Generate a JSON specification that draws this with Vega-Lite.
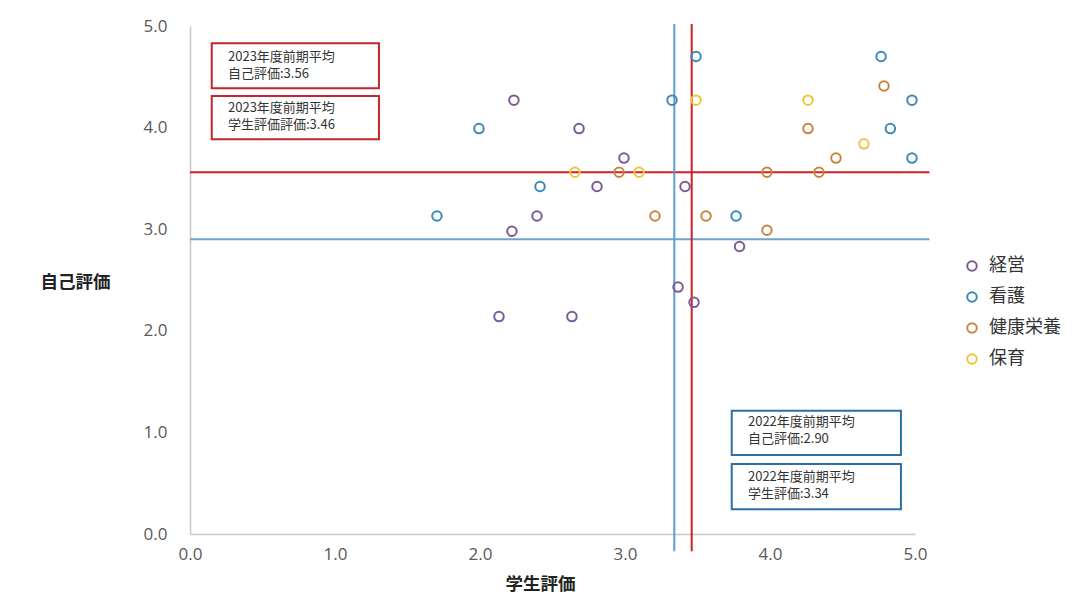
{
  "$schema": "https://vega.github.io/schema/vega-lite/v6.json",
  "width": 725,
  "height": 508,
  "autosize": "none",
  "padding": {"left": 190, "top": 26, "right": 168, "bottom": 78},
  "background": "white",
  "config": {
    "view": {"stroke": null},
    "font": "Noto Sans CJK JP",
    "axis": {
      "grid": false,
      "ticks": false,
      "labelFlush": false,
      "domainColor": "#c8c8c8",
      "domainWidth": 1.5,
      "labelColor": "#595959",
      "labelFontSize": 17,
      "labelFont": "Open Sans",
      "titleFontSize": 17.5,
      "titleFontWeight": "bold",
      "titleColor": "#222222"
    }
  },
  "datasets": {
    "points": [
      {"学生評価": 2.234, "自己評価": 4.27, "学科": "経営"},
      {"学生評価": 2.683, "自己評価": 3.99, "学科": "経営"},
      {"学生評価": 2.993, "自己評価": 3.70, "学科": "経営"},
      {"学生評価": 2.807, "自己評価": 3.42, "学科": "経営"},
      {"学生評価": 2.393, "自己評価": 3.13, "学科": "経営"},
      {"学生評価": 2.22, "自己評価": 2.98, "学科": "経営"},
      {"学生評価": 3.414, "自己評価": 3.42, "学科": "経営"},
      {"学生評価": 3.79, "自己評価": 2.83, "学科": "経営"},
      {"学生評価": 3.366, "自己評価": 2.43, "学科": "経営"},
      {"学生評価": 3.476, "自己評価": 2.28, "学科": "経営"},
      {"学生評価": 2.131, "自己評価": 2.14, "学科": "経営"},
      {"学生評価": 2.634, "自己評価": 2.14, "学科": "経営"},
      {"学生評価": 1.703, "自己評価": 3.13, "学科": "看護"},
      {"学生評価": 1.993, "自己評価": 3.99, "学科": "看護"},
      {"学生評価": 2.414, "自己評価": 3.42, "学科": "看護"},
      {"学生評価": 3.324, "自己評価": 4.27, "学科": "看護"},
      {"学生評価": 3.49, "自己評価": 4.70, "学科": "看護"},
      {"学生評価": 3.766, "自己評価": 3.13, "学科": "看護"},
      {"学生評価": 4.766, "自己評価": 4.70, "学科": "看護"},
      {"学生評価": 4.979, "自己評価": 4.27, "学科": "看護"},
      {"学生評価": 4.83, "自己評価": 3.99, "学科": "看護"},
      {"学生評価": 4.979, "自己評価": 3.70, "学科": "看護"},
      {"学生評価": 2.959, "自己評価": 3.56, "学科": "健康栄養"},
      {"学生評価": 3.207, "自己評価": 3.13, "学科": "健康栄養"},
      {"学生評価": 3.559, "自己評価": 3.13, "学科": "健康栄養"},
      {"学生評価": 3.979, "自己評価": 3.56, "学科": "健康栄養"},
      {"学生評価": 3.979, "自己評価": 2.99, "学科": "健康栄養"},
      {"学生評価": 4.262, "自己評価": 3.99, "学科": "健康栄養"},
      {"学生評価": 4.338, "自己評価": 3.56, "学科": "健康栄養"},
      {"学生評価": 4.455, "自己評価": 3.70, "学科": "健康栄養"},
      {"学生評価": 4.786, "自己評価": 4.41, "学科": "健康栄養"},
      {"学生評価": 2.655, "自己評価": 3.56, "学科": "保育"},
      {"学生評価": 3.097, "自己評価": 3.56, "学科": "保育"},
      {"学生評価": 3.49, "自己評価": 4.27, "学科": "保育"},
      {"学生評価": 4.262, "自己評価": 4.27, "学科": "保育"},
      {"学生評価": 4.648, "自己評価": 3.84, "学科": "保育"}
    ],
    "vlines": [
      {"x": 3.34, "y": -0.17, "y2": 5.02, "group": "2022"},
      {"x": 3.46, "y": -0.17, "y2": 5.02, "group": "2023"}
    ],
    "hlines": [
      {"y": 2.90, "x": 0, "x2": 5.1, "group": "2022"},
      {"y": 3.56, "x": 0, "x2": 5.1, "group": "2023"}
    ],
    "boxes": [
      {"x": 0.150, "x2": 1.303, "y": 4.830, "y2": 4.387, "group": "2023", "tx": 0.262, "ty": 4.698, "label": "2023年度前期平均\n自己評価:3.56"},
      {"x": 0.150, "x2": 1.303, "y": 4.311, "y2": 3.885, "group": "2023", "tx": 0.262, "ty": 4.193, "label": "2023年度前期平均\n学生評価評価:3.46"},
      {"x": 3.736, "x2": 4.903, "y": 1.214, "y2": 0.778, "group": "2022", "tx": 3.848, "ty": 1.105, "label": "2022年度前期平均\n自己評価:2.90"},
      {"x": 3.736, "x2": 4.903, "y": 0.689, "y2": 0.243, "group": "2022", "tx": 3.848, "ty": 0.561, "label": "2022年度前期平均\n学生評価:3.34"}
    ]
  },
  "layer": [
    {
      "data": {"name": "hlines"},
      "mark": {"type": "rule", "strokeWidth": 2},
      "encoding": {
        "x": {"field": "x", "type": "quantitative", "scale": {"domain": [0, 5], "nice": false}, "axis": {"values": [0, 1, 2, 3, 4, 5], "format": ".1f", "labelPadding": 12, "title": "学生評価", "titleX": 350, "titleY": 50, "titleAnchor": "middle", "titleBaseline": "middle"}},
        "x2": {"field": "x2"},
        "y": {"field": "y", "type": "quantitative", "scale": {"domain": [0, 5], "nice": false}, "axis": {"values": [0, 1, 2, 3, 4, 5], "format": ".1f", "labelPadding": 23, "title": "自己評価", "titleAngle": 0, "titleX": -115, "titleY": 256, "titleAlign": "center", "titleBaseline": "middle"}},
        "color": {"field": "group", "type": "nominal", "scale": {"domain": ["2022", "2023"], "range": ["#6fa3cf", "#cc2026"]}, "legend": null}
      }
    },
    {
      "data": {"name": "vlines"},
      "mark": {"type": "rule", "strokeWidth": 2},
      "encoding": {
        "x": {"field": "x", "type": "quantitative"},
        "y": {"field": "y", "type": "quantitative"},
        "y2": {"field": "y2"},
        "color": {"field": "group", "type": "nominal", "scale": {"domain": ["2022", "2023"], "range": ["#5d9fd0", "#cc2026"]}, "legend": null}
      }
    },
    {
      "data": {"name": "boxes"},
      "mark": {"type": "rect", "fill": "white", "strokeWidth": 2},
      "encoding": {
        "x": {"field": "x", "type": "quantitative"},
        "x2": {"field": "x2"},
        "y": {"field": "y", "type": "quantitative"},
        "y2": {"field": "y2"},
        "stroke": {"field": "group", "type": "nominal", "scale": {"domain": ["2022", "2023"], "range": ["#2a6fa8", "#c0282d"]}, "legend": null}
      }
    },
    {
      "data": {"name": "boxes"},
      "mark": {"type": "text", "align": "left", "baseline": "middle", "fontSize": 13, "lineBreak": "\n", "lineHeight": 17, "color": "#333333"},
      "encoding": {
        "x": {"field": "tx", "type": "quantitative"},
        "y": {"field": "ty", "type": "quantitative"},
        "text": {"field": "label"}
      }
    },
    {
      "data": {"name": "points"},
      "mark": {"type": "point", "shape": "circle", "filled": false, "strokeWidth": 2, "size": 90, "opacity": 1},
      "encoding": {
        "x": {"field": "学生評価", "type": "quantitative"},
        "y": {"field": "自己評価", "type": "quantitative"},
        "color": {
          "field": "学科", "type": "nominal",
          "scale": {"domain": ["経営", "看護", "健康栄養", "保育"], "range": ["#7b5a95", "#3a8ab8", "#c8843e", "#f2c43a"]},
          "legend": {
            "orient": "none", "legendX": 773, "legendY": 231, "title": null,
            "symbolType": "circle", "symbolFillColor": "transparent", "symbolStrokeWidth": 2, "symbolSize": 90,
            "labelFontSize": 18, "labelColor": "#333333", "labelOffset": 8, "rowPadding": 13, "padding": 0
          }
        }
      }
    }
  ],
  "resolve": {"scale": {"color": "independent", "stroke": "independent"}}
}
